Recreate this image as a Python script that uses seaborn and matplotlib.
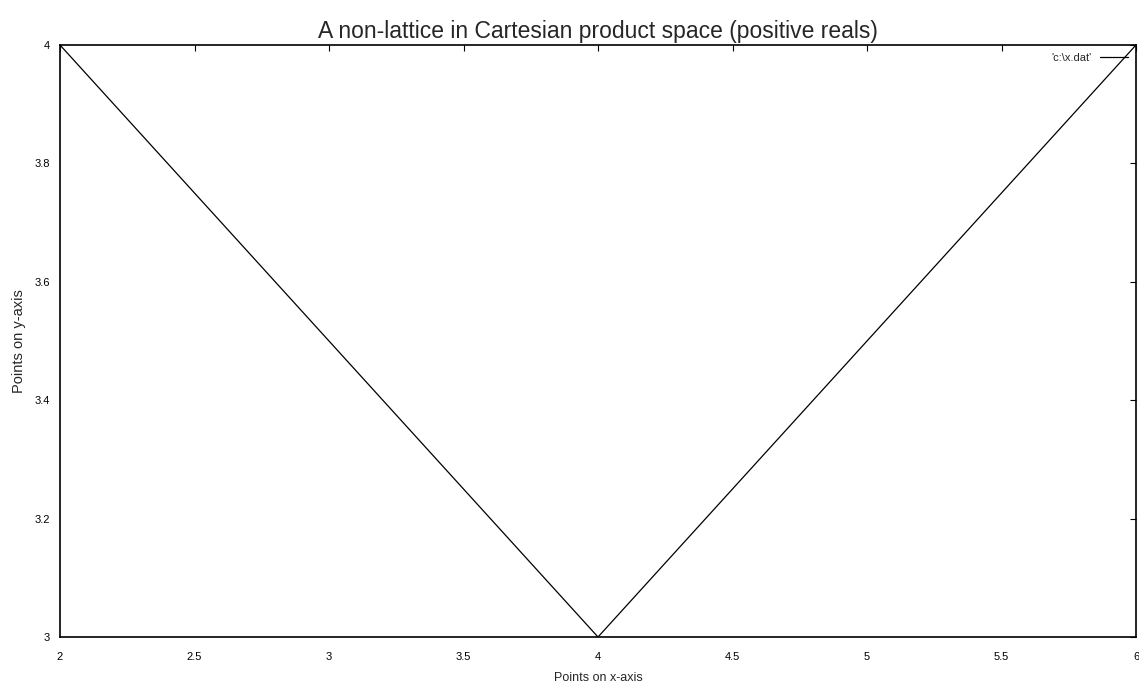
import matplotlib
matplotlib.use("Agg")
import matplotlib.pyplot as plt
import seaborn as sns
import pandas as pd

# data
x_vals = [2, 4, 6]
y_vals = [4, 3, 4]
series_name = "'c:\\x.dat'"

x_ticks = [2, 2.5, 3, 3.5, 4, 4.5, 5, 5.5, 6]
x_tick_labels = ["2", "2.5", "3", "3.5", "4", "4.5", "5", "5.5", "6"]
y_ticks = [3, 3.2, 3.4, 3.6, 3.8, 4]
y_tick_labels = ["3", "3.2", "3.4", "3.6", "3.8", "4"]


def main():
    sns.set_style("white")
    plt.rcParams['font.family'] = ['Liberation Sans', 'DejaVu Sans']

    df = pd.DataFrame({'x': x_vals, 'y': y_vals, 'series': series_name})

    fig = plt.figure(figsize=(11.39, 6.88), dpi=100)
    ax = fig.add_axes([60 / 1139, 1 - 637 / 688, (1136 - 60) / 1139, (637 - 45) / 688])

    sns.lineplot(data=df, x='x', y='y', hue='series', palette=['black'],
                 linewidth=0.9, sort=False, ax=ax, legend=True)

    ax.set_xlim(2, 6)
    ax.set_ylim(3, 4)
    ax.set_xticks(x_ticks)
    ax.set_xticklabels(x_tick_labels)
    ax.set_yticks(y_ticks)
    ax.set_yticklabels(y_tick_labels)
    ax.tick_params(direction='in', length=4, width=0.8, top=True, right=True,
                   labelsize=8, colors='black')
    ax.tick_params(axis='x', pad=11)
    ax.tick_params(axis='y', pad=7)
    for s in ax.spines.values():
        s.set_color('black')
        s.set_linewidth(1.2)
        s.set_visible(True)

    ax.set_xlabel('Points on x-axis', fontsize=9, labelpad=7)
    ax.set_ylabel('Points on y-axis', fontsize=10.5, labelpad=6)
    ax.set_title('A non-lattice in Cartesian product space (positive reals)',
                 fontsize=16.5, pad=5)

    handles, labels = ax.get_legend_handles_labels()
    ax.legend(handles, labels, loc='upper right', frameon=False, fontsize=8,
              markerfirst=False, handlelength=2.5, borderaxespad=0.3)

    fig.savefig('out.png', dpi=100)


if __name__ == "__main__":
    main()
